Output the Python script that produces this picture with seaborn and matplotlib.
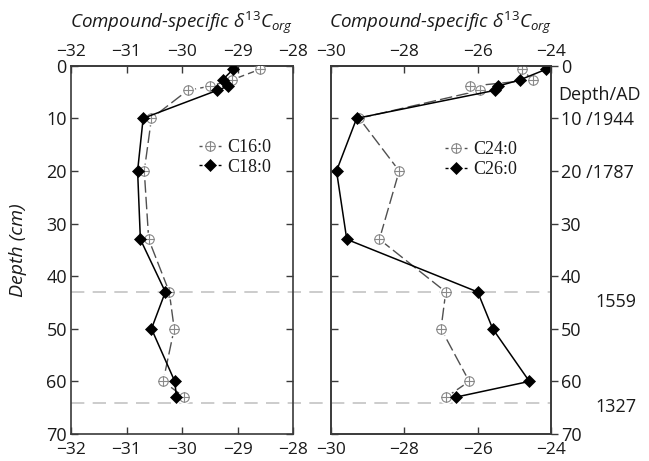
import matplotlib
matplotlib.use("Agg")
import matplotlib.pyplot as plt
import seaborn as sns
import pandas as pd
from matplotlib.path import Path
from matplotlib.lines import Line2D

# ---------------- data ----------------
depth = [0.7, 2.7, 3.9, 4.7, 10, 20, 33, 43, 50, 60, 63]
c16 = [-28.6, -29.1, -29.5, -29.9, -30.55, -30.68, -30.6, -30.23, -30.14, -30.34, -29.96]
c18 = [-29.08, -29.27, -29.17, -29.37, -30.7, -30.8, -30.75, -30.3, -30.55, -30.13, -30.1]
c24 = [-24.8, -24.5, -26.2, -25.94, -29.23, -28.14, -28.68, -26.87, -27.0, -26.23, -26.86]
c26 = [-24.14, -24.85, -25.45, -25.54, -29.3, -29.85, -29.57, -26.0, -25.59, -24.59, -26.6]
left_xticks = [-32, -31, -30, -29, -28]
right_xticks = [-30, -28, -26, -24]
yticks = [0, 10, 20, 30, 40, 50, 60, 70]
right_ylabels = ["0", "10 /1944", "20 /1787", "30", "40", "50", "60", "70"]
guide_depths = [43.1, 64.2]
ad_labels = ["1559", "1327"]
ad_label_depths = [44.9, 64.9]
title = r"Compound-specific $δ^{13}C_{org}$"

sns.set_theme(style="white")
plt.rcParams["font.family"] = ["Open Sans", "DejaVu Sans"]
plt.rcParams["mathtext.fontset"] = "custom"
plt.rcParams["mathtext.it"] = "Open Sans:italic"
plt.rcParams["mathtext.rm"] = "Open Sans"
plt.rcParams["mathtext.default"] = "it"
plt.rcParams["axes.unicode_minus"] = True

# circle-with-plus marker
circ = Path.unit_circle()
verts = list(circ.vertices) + [(-1, 0), (1, 0), (0, -1), (0, 1)]
codes = list(circ.codes) + [Path.MOVETO, Path.LINETO, Path.MOVETO, Path.LINETO]
oplus = Path(verts, codes)

W, H = 649, 461
fig = plt.figure(figsize=(W / 100, H / 100), dpi=100)
ax1 = fig.add_axes([71 / W, 27 / H, 222 / W, 368.3 / H])
ax2 = fig.add_axes([331 / W, 27 / H, 220 / W, 368.3 / H])
ax2.set_facecolor("none")

spine_c = "#3a3a3a"
open_c = "#8a8a8a"
dash_line_c = "#505050"
txt_c = "#1a1a1a"
TS = 12.5      # x tick label size
YS = 13.0      # y tick label size
LFS = 13.0     # legend font size
HL = 16.0      # legend handle length in points


def draw_panel(ax, xvals_open, xvals_solid, lab_open, lab_solid):
    d_open = pd.DataFrame({"x": xvals_open, "depth": depth})
    d_solid = pd.DataFrame({"x": xvals_solid, "depth": depth})
    sns.lineplot(data=d_open, x="x", y="depth", sort=False, estimator=None,
                 color=dash_line_c, lw=1.0, ax=ax, legend=False, zorder=2)
    ax.lines[-1].set_linestyle((0, (9, 3)))
    sns.lineplot(data=d_open, x="x", y="depth", sort=False, estimator=None,
                 linestyle="none", marker="o", ms=10, mfc="white", mec="white",
                 mew=0, ax=ax, legend=False, zorder=2.5)
    sns.lineplot(data=d_open, x="x", y="depth", sort=False, estimator=None,
                 linestyle="none", marker=oplus, ms=6.8, mfc="white", mec=open_c,
                 mew=0.8, ax=ax, legend=False, zorder=3)
    sns.lineplot(data=d_solid, x="x", y="depth", sort=False, estimator=None,
                 color="black", lw=1.1, marker="D", ms=6.5, mfc="black", mec="black",
                 mew=0.5, ax=ax, legend=False, zorder=4)
    ax.set_ylim(70, 0)
    ax.set_xlabel("")
    ax.set_ylabel("")
    for s in ax.spines.values():
        s.set_color(spine_c)
        s.set_linewidth(1.2)
        s.set_visible(True)
    h1 = Line2D([], [], color=dash_line_c, lw=1.0, linestyle=(0, (2.2, HL - 4.4)),
                marker=oplus, ms=6.8, mfc="white", mec=open_c, mew=0.8)
    h2 = Line2D([], [], color="black", lw=1.0, linestyle=(0, (2.2, HL - 4.4)),
                marker="D", ms=6.5, mfc="black", mec="black", mew=0.5)
    return [h1, h2], [lab_open, lab_solid]


def add_legend(ax, hs, ls, x, y):
    leg = ax.legend(hs, ls, loc="center left", bbox_to_anchor=(x, y),
                    frameon=False, borderpad=0, handlelength=HL / LFS,
                    handletextpad=0.35, labelspacing=0.15,
                    prop={"family": "Liberation Serif", "size": LFS})
    for t in leg.get_texts():
        t.set_color(txt_c)


def style_x(ax, ticks):
    ax.set_xticks(ticks)
    ax.tick_params(axis="x", direction="in", length=5, width=1.0, color=spine_c,
                   top=False, bottom=True, labeltop=False, labelbottom=True,
                   labelsize=TS, labelcolor=txt_c, pad=5.5)
    sec = ax.secondary_xaxis("top")
    sec.set_xticks(ticks)
    sec.tick_params(axis="x", direction="in", length=5, width=1.0, color=spine_c,
                    labelsize=TS, labelcolor=txt_c, pad=4)
    sec.spines["top"].set_color(spine_c)
    sec.spines["top"].set_linewidth(1.2)


hs, ls = draw_panel(ax1, c16, c18, "C16:0", "C18:0")
ax1.set_xlim(-32, -28)
style_x(ax1, left_xticks)
ax1.set_yticks(yticks)
ax1.tick_params(axis="y", direction="in", length=5, width=1.0, color=spine_c,
                left=True, right=True, labelleft=True, labelright=False,
                labelsize=YS, labelcolor=txt_c, pad=3)
add_legend(ax1, hs, ls, 0.535, 0.751)

hs, ls = draw_panel(ax2, c24, c26, "C24:0", "C26:0")
ax2.set_xlim(-30, -24)
style_x(ax2, right_xticks)
ax2.set_yticks(yticks)
ax2.tick_params(axis="y", direction="in", length=5, width=1.0, color=spine_c,
                left=True, right=False, labelleft=False, labelright=False)
add_legend(ax2, hs, ls, 0.475, 0.745)

axr = ax2.twinx()
axr.set_ylim(70, 0)
axr.set_yticks(yticks)
axr.set_yticklabels(right_ylabels)
axr.tick_params(axis="y", direction="out", length=5, width=1.0, color=spine_c,
                labelsize=YS, labelcolor=txt_c, pad=2)
for s in axr.spines.values():
    s.set_color(spine_c)
    s.set_linewidth(1.2)

# guide lines spanning both panels
for d in guide_depths:
    ax1.plot([0, (551 - 71) / 222], [d, d], transform=ax1.get_yaxis_transform(),
             color="#c4c4c4", lw=1.2, linestyle=(0, (8, 5)), clip_on=False, zorder=1)

for lab, d in zip(ad_labels, ad_label_depths):
    ax2.text((595 - 331) / 220, d, lab, transform=ax2.get_yaxis_transform(),
             ha="left", va="center", fontsize=YS, color=txt_c, clip_on=False)
ax2.text((558 - 331) / 220, 5.5, "Depth/AD", transform=ax2.get_yaxis_transform(),
         ha="left", va="center", fontsize=YS, color=txt_c, clip_on=False)

ax1.set_ylabel("Depth (cm)", fontsize=14, fontstyle="italic", color=txt_c)
ax1.yaxis.set_label_coords((27 - 71) / 222, 0.5)

fig.text(182 / W, 1 - 28.5 / H, title, ha="center", va="baseline",
         fontsize=13.5, fontstyle="italic", color=txt_c)
fig.text(441 / W, 1 - 28.5 / H, title, ha="center", va="baseline",
         fontsize=13.5, fontstyle="italic", color=txt_c)

fig.savefig("out.png", dpi=100, facecolor="white")
